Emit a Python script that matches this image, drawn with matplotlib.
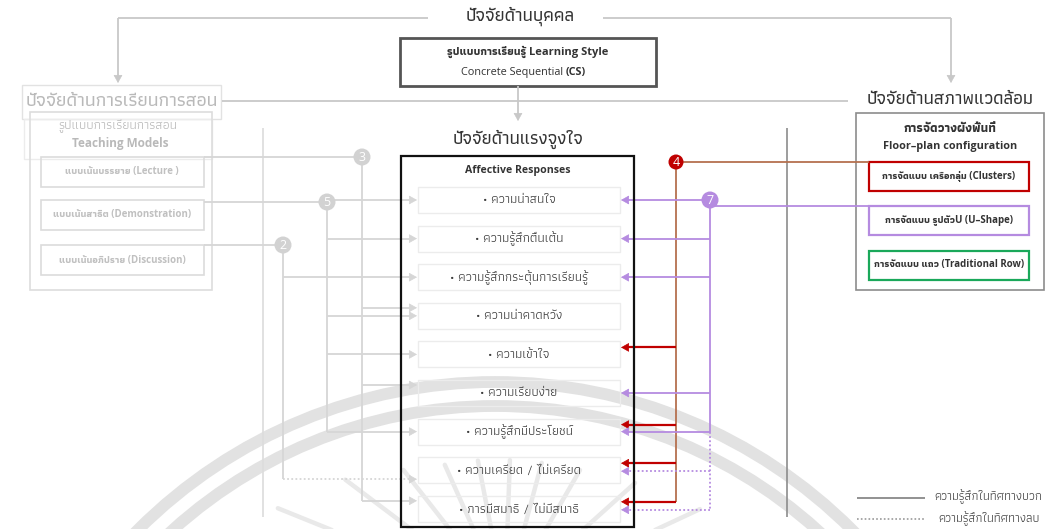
import matplotlib
matplotlib.use("Agg")
import matplotlib.pyplot as plt
import numpy as np
from matplotlib.patches import Rectangle, Circle

# ---------------- Dados ----------------
title_person = "ปัจจัยด้านบุคคล"
title_teaching = "ปัจจัยด้านการเรียนการสอน"
title_motivation = "ปัจจัยด้านแรงจูงใจ"
title_environment = "ปัจจัยด้านสภาพแวดล้อม"

learning_style = ["รูปแบบการเรียนรู้ Learning Style", "Concrete Sequential", "(CS)"]
teaching_head = ["รูปแบบการเรียนการสอน", "Teaching Models"]
floor_head = ["การจัดวางผังพื้นที่", "Floor–plan configuration"]
affective_head = "Affective Responses"

teaching_models = ["แบบเน้นบรรยาย (Lecture )",
                   "แบบเน้นสาธิต (Demonstration)",
                   "แบบเน้นอภิปราย (Discussion)"]
floor_plans = ["การจัดแบบ เครือกลุ่ม (Clusters)",
               "การจัดแบบ รูปตัวU (U–Shape)",
               "การจัดแบบ แถว (Traditional Row)"]
affective_items = ["• ความน่าสนใจ",
                   "• ความรู้สึกตื่นเต้น",
                   "• ความรู้สึกกระตุ้นการเรียนรู้",
                   "• ความน่าคาดหวัง",
                   "• ความเข้าใจ",
                   "• ความเรียบง่าย",
                   "• ความรู้สึกมีประโยชน์",
                   "• ความเครียด / ไม่เครียด",
                   "• การมีสมาธิ / ไม่มีสมาธิ"]

# caminhos numerados: item afetivo (1..9) com efeito positivo / negativo
teaching_ids = ["3", "5", "2"]
teaching_pos = [[4, 6, 9], [1, 2, 4, 5, 7], [3]]
teaching_neg = [[], [], [8]]
floor_ids = ["4", "7"]
floor_pos = [[5, 7, 8, 9], [1, 2, 3, 6, 7]]
floor_neg = [[], [8, 9]]

legend_labels = ["ความรู้สึกในทิศทางบวก", "ความรู้สึกในทิศทางลบ"]

# ---------------- Estilo ----------------
TH = ["Athiti", "DejaVu Sans"]
MIX = ["Open Sans", "Athiti", "DejaVu Sans"]
GRAY_L = "#d6d6d6"
GRAY_T = "#b9b9b9"
PURPLE = "#b58be0"
RED = "#c00000"
BROWN = "#b5714f"
DOT = (0, (1, 1.3))
WM = "#e2e2e2"   # marca d'água

W, H = 1047, 529
fig = plt.figure(figsize=(W / 100, H / 100), dpi=100)
ax = fig.add_axes([0, 0, 1, 1])
ax.set_xlim(0, W)
ax.set_ylim(H, 0)
ax.axis("off")

HEAD = "-|>,head_length=0.5,head_width=0.28"


def box(x0, y0, x1, y1, ec, lw=1.0, z=2):
    ax.add_patch(Rectangle((x0, y0), x1 - x0, y1 - y0, fill=False, ec=ec, lw=lw, zorder=z))


def line(xs, ys, c, lw=1.3, ls="-", z=3):
    ax.plot(xs, ys, color=c, lw=lw, ls=ls, zorder=z, solid_capstyle="butt")


def arrow(x0, x1, y, c, ls="-", lw=1.3, z=4):
    d = 1 if x1 > x0 else -1
    line([x0, x1 - d * 4], [y, y], c, lw=lw, ls=ls, z=z)
    ax.annotate("", xy=(x1, y), xytext=(x1 - d * 6, y),
                arrowprops=dict(arrowstyle=HEAD, color=c, lw=0.5, shrinkA=0, shrinkB=0), zorder=z)


def down_arrow(x, y0, y1, c):
    line([x, x], [y0, y1 - 4], c)
    ax.annotate("", xy=(x, y1), xytext=(x, y1 - 6),
                arrowprops=dict(arrowstyle=HEAD, color=c, lw=0.5, shrinkA=0, shrinkB=0))


def badge(x, y, txt, fc, r=8.5):
    ax.add_patch(Circle((x, y), r, fc=fc, ec="none", zorder=6))
    ax.text(x, y + 0.5, txt, ha="center", va="center", color="white",
            fontsize=9, family=MIX, zorder=7)


# ---------------- marca d'água ----------------
ax.add_patch(Circle((495, 887), 505, fill=False, ec=WM, lw=8.5, zorder=0))
ax.add_patch(Circle((495, 887), 481, fill=False, ec=WM, lw=8.5, zorder=0))
# folhas em leque (ângulo em graus, raio interno, raio externo)
leaf_ang = [25, 42, 60, 75, 88, 101, 114, 128, 143, 158]
leaf_r0 = [110, 90, 75, 70, 70, 70, 70, 80, 100, 125]
leaf_r1 = [215, 175, 150, 142, 140, 142, 148, 165, 200, 245]
for a, r0, r1 in zip(leaf_ang, leaf_r0, leaf_r1):
    t = np.deg2rad(a)
    ax.plot([505 + r0 * np.cos(t), 505 + r1 * np.cos(t)],
            [600 - r0 * np.sin(t), 600 - r1 * np.sin(t)],
            color="#e9e9e9", lw=3.2, solid_capstyle="round", zorder=0)

# ---------------- Topo: fator pessoal ----------------
ax.text(520, 16, title_person, ha="center", va="center", fontsize=13.2, family=TH,
        weight="medium", color="#333333")
line([118, 428], [18, 18], "#c8c8c8")
line([603, 951], [18, 18], "#c8c8c8")
down_arrow(118, 18, 83, "#c8c8c8")
down_arrow(951, 18, 83, "#c8c8c8")

box(400, 38, 656, 86, "#555555", lw=2)
ax.text(528, 52, learning_style[0], ha="center", va="center", fontsize=8, family=MIX,
        weight="bold", color="#333333")
ax.text(563, 72, learning_style[1], ha="right", va="center", fontsize=7.8, family=MIX, color="#333333")
ax.text(566, 72, learning_style[2], ha="left", va="center", fontsize=7.8, family=MIX,
        weight="bold", color="#333333")

# linha horizontal do meio
line([222, 848], [101, 101], "#c8c8c8")
down_arrow(518, 86, 121, "#c8c8c8")

# ---------------- Esquerda: ensino ----------------
box(22, 85, 221, 119, "#e2e2e2")
ax.text(122, 101, title_teaching, ha="center", va="center", fontsize=13.8, family=TH,
        weight="medium", color=GRAY_T)
box(24, 119, 212, 159, "#ececec")
box(30, 112, 212, 290, "#dddddd", lw=1.2)
ax.text(118, 126, teaching_head[0], ha="center", va="center", fontsize=9.5, family=MIX, color=GRAY_T)
ax.text(120, 144, teaching_head[1], ha="center", va="center", fontsize=8.5, family=MIX,
        weight="bold", color=GRAY_T)

tm_y = [171.5, 214.5, 260]
tm_line_y = [157, 202, 245]
for i, name in enumerate(teaching_models):
    box(41, tm_y[i] - 15, 204, tm_y[i] + 15, "#dcdcdc", lw=1.2)
    ax.text(122, tm_y[i], name, ha="center", va="center", fontsize=7, family=MIX,
            weight="bold", color="#c0c0c0")

# linhas verticais de separação
line([263, 263], [128, 517], "#dcdcdc", lw=1.2, z=1)
line([787, 787], [128, 517], "#8c8c8c", lw=1.2, z=1)

# ---------------- Centro: motivação ----------------
ax.text(518, 139, title_motivation, ha="center", va="center", fontsize=13.2, family=TH,
        weight="medium", color="#333333")
box(401, 156, 634, 527, "#111111", lw=1.6, z=5)
ax.text(518, 170, affective_head, ha="center", va="center", fontsize=7.6, family=MIX,
        weight="bold", color="#333333")

ITEM_X0, ITEM_X1 = 418, 620
item_y = [200 + i * 38.6 for i in range(len(affective_items))]
for i, name in enumerate(affective_items):
    box(ITEM_X0, item_y[i] - 13, ITEM_X1, item_y[i] + 13, "#ececec", lw=1.0)
    ax.text(519, item_y[i], name, ha="center", va="center", fontsize=9.4, family=TH, color="#3a3a3a")

# caminhos do lado esquerdo (cinza)
t_circle_x = [362, 327, 283]
t_off_pos = [-8, 0, 0]
t_off_neg = [0, 0, 9]
for k in range(len(teaching_models)):
    cx, cy = t_circle_x[k], tm_line_y[k]
    line([204, cx], [cy, cy], GRAY_L)
    ys = [item_y[j - 1] + t_off_pos[k] for j in teaching_pos[k]]
    ys_n = [item_y[j - 1] + t_off_neg[k] for j in teaching_neg[k]]
    line([cx, cx], [cy, max(ys + ys_n)], GRAY_L)
    for y in ys:
        arrow(cx, ITEM_X0 - 1, y, GRAY_L)
    for y in ys_n:
        arrow(cx, ITEM_X0 - 1, y, GRAY_L, ls=DOT)
    badge(cx, cy, teaching_ids[k], "#d2d2d2")

# ---------------- Direita: ambiente ----------------
ax.text(950, 100, title_environment, ha="center", va="center", fontsize=13.2, family=TH,
        weight="medium", color="#333333")
box(856, 113, 1044, 290, "#8c8c8c", lw=1.2)
ax.text(950, 128, floor_head[0], ha="center", va="center", fontsize=9, family=MIX,
        weight="bold", color="#333333")
ax.text(950, 146, floor_head[1], ha="center", va="center", fontsize=7.8, family=MIX,
        weight="bold", color="#333333")
fp_y = [176, 220, 265]
fp_c = [RED, PURPLE, "#1aa85a"]
for i, name in enumerate(floor_plans):
    box(869, fp_y[i] - 14.5, 1029, fp_y[i] + 14.5, fp_c[i], lw=1.6)
    ax.text(949, fp_y[i], name, ha="center", va="center", fontsize=7, family=MIX,
            weight="bold", color="#333333")

# caminho 4 (agrupamentos)
c4x, c4y = 676, 162
line([c4x, 869], [c4y, c4y], BROWN)
ys4 = [item_y[j - 1] - 7 for j in floor_pos[0]]
line([c4x, c4x], [c4y, max(ys4)], BROWN)
for y in ys4:
    arrow(c4x, ITEM_X1 + 1, y, RED, lw=1.6)
badge(c4x, c4y, floor_ids[0], RED, r=7.5)

# caminho 7 (U)
c7x, c7y = 710, 200
line([c7x, 869], [206, 206], PURPLE)
ys7 = [item_y[j - 1] for j in floor_pos[1]]
ys7n = [item_y[j - 1] + 1 for j in floor_neg[1]]
line([c7x, c7x], [c7y, max(ys7)], PURPLE)
line([c7x, c7x], [max(ys7), max(ys7n)], PURPLE, ls=DOT)
for y in ys7:
    arrow(c7x, ITEM_X1 + 1, y, PURPLE)
for y in ys7n:
    arrow(c7x, ITEM_X1 + 1, y, PURPLE, ls=DOT)
badge(c7x, c7y, floor_ids[1], PURPLE)

# ---------------- Legenda ----------------
line([857, 925], [498, 498], "#7f7f7f", lw=1.2)
line([857, 925], [519, 519], "#9a9a9a", lw=1.2, ls=DOT)
ax.text(934, 497, legend_labels[0], ha="left", va="center", fontsize=9, family=TH, color="#444444")
ax.text(938, 519, legend_labels[1], ha="left", va="center", fontsize=9, family=TH, color="#444444")

fig.savefig("out.png", dpi=100)
